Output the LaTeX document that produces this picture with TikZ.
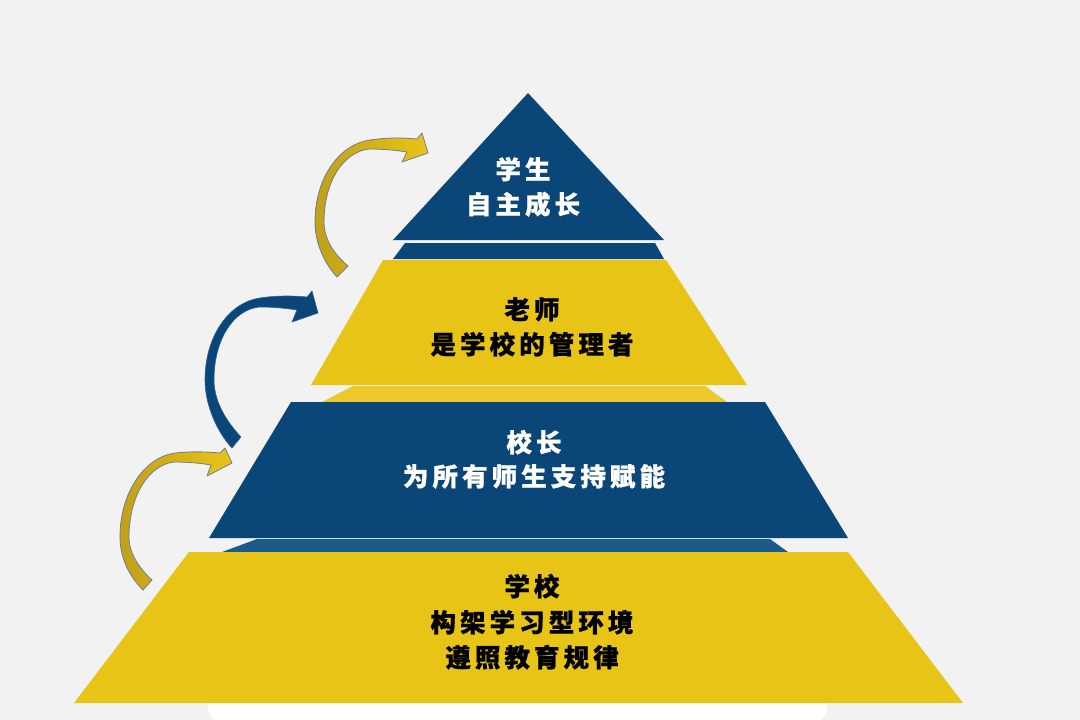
\documentclass[tikz,border=0pt]{standalone}
\usepackage{fontspec}
\newfontfamily\cjk[LetterSpace=16, BoldFeatures={FakeBold=0.8}]{Noto Sans CJK SC}
\definecolor{bgc}{HTML}{F2F2F2}
\definecolor{navy}{HTML}{0A4677}
\definecolor{navyL}{HTML}{1B5B8B}
\definecolor{yel}{HTML}{E8C417}
\definecolor{yelL}{HTML}{EBC92C}
\definecolor{yelD}{HTML}{C2A018}
\definecolor{arrline}{HTML}{6E7E96}
\definecolor{navyedge}{HTML}{2E5F90}
\tikzset{
  lbl/.style={font=\cjk\bfseries\fontsize{25.5}{25.5}\selectfont, inner sep=0pt, anchor=base},
  wt/.style={lbl, text=white},
  bt/.style={lbl, text=black},
  yarrow/.style={left color=yelD, right color=yel, draw=arrline, line width=0.8pt, line join=round},
  barrow/.style={fill=navy, draw=navyedge, line width=0.6pt, line join=round}
}
\begin{document}
\begin{tikzpicture}[x=1pt,y=-1pt]
\useasboundingbox (0,0) rectangle (1080,720);
\fill[bgc] (0,0) rectangle (1080,720);
% white base under the pyramid
\begin{scope}
\clip (0,0) rectangle (1080,720);
\fill[white, rounded corners=16pt] (208,680) rectangle (827,723);
\end{scope}
% layers
\fill[navy] (528,93) -- (664,240) -- (393,240) -- cycle;
\fill[navy] (405,243) -- (655,243) -- (664,259) -- (393,259) -- cycle;
\fill[yel] (383,260) -- (666,260) -- (747,385) -- (311,385) -- cycle;
\fill[yelL] (353,386) -- (705,386) -- (727,402) -- (322,402) -- cycle;
\fill[navy] (291,402) -- (765,402) -- (848,538) -- (209,538) -- cycle;
\fill[navyL] (257,539) -- (770,539) -- (788,552) -- (222,552) -- cycle;
\fill[yel] (189,552) -- (848,552) -- (963,703) -- (74,703) -- cycle;
% arrows
\begin{scope}[shift={(315,222)}]
\path[yarrow] (22,55) .. controls (10,42) and (0,22) .. (0,0)
  .. controls (0,-45) and (25,-78) .. (55,-82)
  .. controls (75,-85) and (92,-84) .. (102,-83)
  -- (107,-89) -- (113,-69) -- (87,-60) -- (92,-70)
  .. controls (80,-72) and (66,-73) .. (54,-73)
  .. controls (28,-70) and (9,-40) .. (9,0)
  .. controls (9,18) and (20,33) .. (33,44) -- cycle;
\end{scope}
\begin{scope}[shift={(205,380)}]
\path[barrow] (27,68) .. controls (12,52) and (0,25) .. (0,0)
  .. controls (0,-45) and (25,-78) .. (55,-82)
  .. controls (75,-85) and (92,-84) .. (102,-83)
  -- (107,-89) -- (113,-67) -- (87,-58) -- (92,-70)
  .. controls (80,-72) and (66,-73) .. (54,-73)
  .. controls (28,-70) and (9,-40) .. (9,0)
  .. controls (9,22) and (22,42) .. (36,57) -- cycle;
\end{scope}
\begin{scope}[shift={(120,537)}]
\path[yarrow] (23,53) .. controls (10,40) and (0,22) .. (0,0)
  .. controls (0,-45) and (25,-80) .. (55,-84)
  .. controls (75,-86) and (90,-85) .. (100,-84)
  -- (105,-89) -- (112,-74) -- (87,-61) -- (91,-72)
  .. controls (80,-74) and (66,-75) .. (54,-75)
  .. controls (28,-72) and (9,-40) .. (9,0)
  .. controls (9,17) and (20,32) .. (32,43) -- cycle;
\end{scope}
% texts
\node[wt] (t1a) at (523,179) {学生};
\node[wt] (t1b) at (523,214) {自主成长};
\node[bt] (t2a) at (532,319) {老师};
\node[bt] (t2b) at (532,354) {是学校的管理者};
\node[wt] (t3a) at (534,452) {校长};
\node[wt] (t3b) at (534,486) {为所有师生支持赋能};
\node[bt] (t4a) at (532,596) {学校};
\node[bt] (t4b) at (532,632) {构架学习型环境};
\node[bt] (t4c) at (532,667) {遵照教育规律};
\end{tikzpicture}
\end{document}
